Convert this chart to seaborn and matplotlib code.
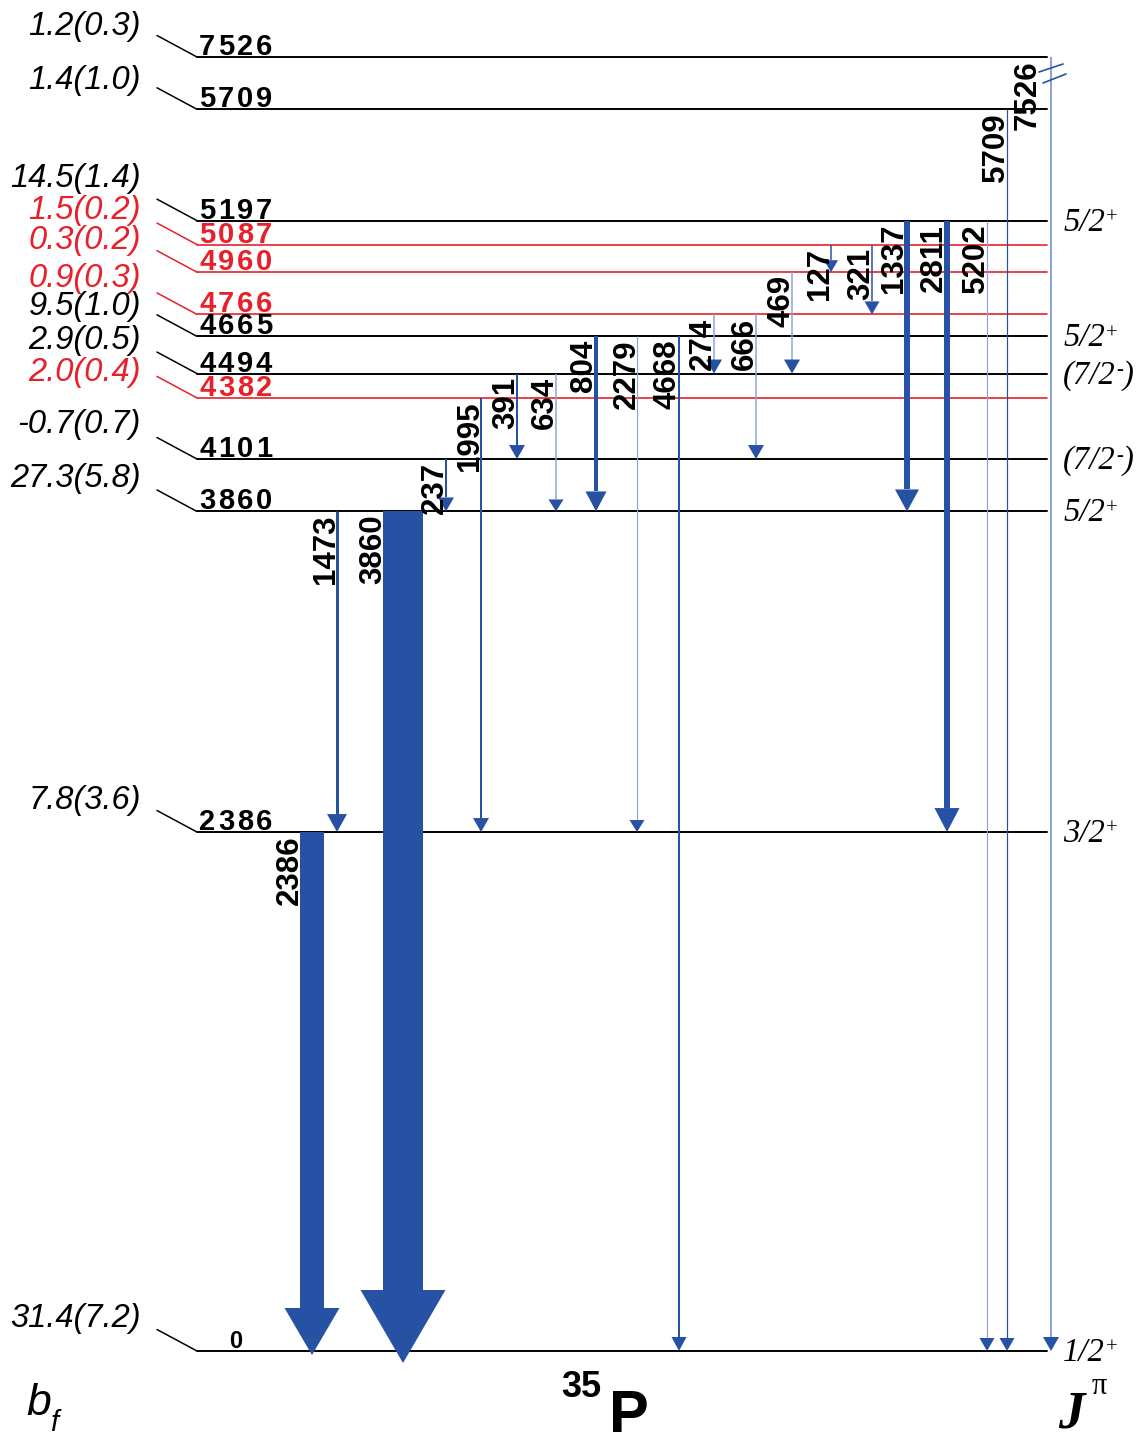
import matplotlib
matplotlib.use("Agg")
import matplotlib.pyplot as plt
import seaborn as sns

# Levels of 35P (keV), feeding b_f (%) and new levels (drawn red)
level_energy = [7526, 5709, 5197, 5087, 4960, 4766, 4665, 4494, 4382, 4101, 3860, 2386, 0]
level_bf = ["1.2(0.3)", "1.4(1.0)", "14.5(1.4)", "1.5(0.2)", "0.3(0.2)", "0.9(0.3)",
            "9.5(1.0)", "2.9(0.5)", "2.0(0.4)", "-0.7(0.7)", "27.3(5.8)", "7.8(3.6)", "31.4(7.2)"]
level_new = [0, 0, 0, 1, 1, 1, 0, 0, 1, 0, 0, 0, 0]

spin_energy = [5197, 4665, 4494, 4101, 3860, 2386, 0]
spin_label = ["5/2+", "5/2+", "(7/2-)", "(7/2-)", "5/2+", "3/2+", "1/2+"]

# gamma transitions: initial level, final level, gamma energy
gamma_from = [3860, 3860, 2386, 4101, 4382, 4494, 4494, 4665, 4665, 4665,
              4766, 4766, 4960, 5087, 5087, 5197, 5197, 5197, 5709, 7526]
gamma_to = [2386, 0, 0, 3860, 2386, 4101, 3860, 3860, 2386, 0,
            4494, 4101, 4494, 4960, 4766, 3860, 2386, 0, 0, 0]
gamma_label = ["1473", "3860", "2386", "237", "1995", "391", "634", "804", "2279", "4668",
               "274", "666", "469", "127", "321", "1337", "2811", "5202", "5709", "7526"]

# ---- layout (pixels) ----
arrow_x = [337, 403, 312, 446, 481, 517, 556, 596, 637, 679,
           714, 756, 792, 831, 872, 907, 947, 987, 1007, 1051]
shaft_w = [3, 40, 24, 2, 2, 2, 1.5, 4.5, 1.2, 2,
           1.5, 1.5, 1.5, 1.5, 1.5, 6, 6, 1.2, 1.2, 2]
head_w = [20, 85, 55, 16, 16, 16, 15, 21, 15, 15,
          16, 16, 16, 14, 15, 24, 25, 15, 15, 16]
head_h = [18, 73, 47, 14, 14, 14, 12, 20, 12, 14,
          14, 14, 14, 12, 13, 22, 24, 13, 13, 14]
tip_drop = [0, 12, 4] + [0] * 17
light = [0, 0, 0, 0, 0, 0, 1, 0, 1, 0, 1, 1, 1, 0, 0, 0, 0, 1, 0, 1]
label_gap = [2] * 19 + [14]
bf_label_px = [27, 80, 179, 210, 240, 278, 307, 340, 372, 425, 479, 800, 1319]

DARK = "#2751a3"
LIGHT = "#8ca4d8"
RED = "#e8202a"
SERIF = ["Liberation Serif", "DejaVu Serif"]

PX = 1 / 0.2175          # keV per pixel on the vertical axis
Y0 = 1351                # pixel row of the ground state


def e_px(p):
    return (Y0 - p) * PX


def draw_e(e):
    # 7526 sits above an axis break
    return e_px(57) if e == 7526 else e


sns.set_theme(style="white")
plt.rcParams["font.family"] = ["Liberation Sans", "DejaVu Sans"]
plt.rcParams["text.color"] = "black"

fig = plt.figure(figsize=(11.42, 14.37), dpi=100)
ax = fig.add_axes([0, 0, 1, 1])
ax.set_xlim(0, 1142)
ax.set_ylim(e_px(1437), e_px(0))
ax.axis("off")

# levels, connectors, level energies and b_f
for e, bf, new, ly in zip(level_energy, level_bf, level_new, bf_label_px):
    y = draw_e(e)
    c = RED if new else "black"
    ax.plot([197, 1047], [y, y], color=c, lw=1.4 if not new else 1.2, zorder=2)
    ax.plot([157, 197], [y + 21.5 * PX, y], color=c, lw=1.1, zorder=2)
    s = str(e)
    if e == 0:
        ax.text(229, y + 3 * PX, s, color=c, fontsize=17, fontweight="bold",
                ha="left", va="baseline", zorder=5)
    else:
        for i, ch in enumerate(s):
            ax.text(199 + i * 19, y + 2 * PX, ch, color=c, fontsize=21,
                    fontweight="bold", ha="left", va="baseline", zorder=5)
    ax.text(141, e_px(ly), bf, color=c, fontsize=23.5, style="italic",
            ha="right", va="center", zorder=5)

# gamma rays
for i, (e1, e2, lab) in enumerate(zip(gamma_from, gamma_to, gamma_label)):
    x = arrow_x[i]
    top = draw_e(e1)
    tip = e2 - tip_drop[i] * PX
    base = tip + head_h[i] * PX
    w = shaft_w[i]
    col = LIGHT if light[i] else DARK
    if w <= 3:
        ax.plot([x, x], [top, base], color=col, lw=w * 0.72,
                solid_capstyle="butt", zorder=3)
    else:
        ax.fill([x - w / 2, x + w / 2, x + w / 2, x - w / 2],
                [top, top, base, base], color=col, lw=0, zorder=3)
    hw = head_w[i]
    ax.fill([x - hw / 2, x + hw / 2, x], [base, base, tip],
            color=DARK, lw=0, zorder=3)
    ax.text(x - w / 2 - label_gap[i], top - 3 * PX, lab, rotation=90,
            rotation_mode="anchor", ha="right", va="baseline",
            fontsize=22.5, fontweight="bold", color="black", zorder=6)

# axis break marks on the 7526 line
ax.plot([1039, 1063], [e_px(72), e_px(64)], color=DARK, lw=1.2, zorder=4)
ax.plot([1043, 1066], [e_px(83), e_px(74)], color=DARK, lw=1.2, zorder=4)

# spin-parity labels: italic serif with a small raised sign
for e, s in zip(spin_energy, spin_label):
    paren = s.startswith("(")
    core = s.strip("()")
    main = ("(" if paren else "") + core[:-1]
    t = ax.text(1063, e - 10 * PX, main, fontsize=23.5, style="italic",
                family=SERIF, ha="left", va="baseline", color="black", zorder=5)
    ax.annotate(core[-1], xy=(1, 0.5), xycoords=t, xytext=(0.5, 0),
                textcoords="offset points", fontsize=15, family=SERIF,
                ha="left", va="baseline", color="black", zorder=5)
    if paren:
        ax.annotate(")", xy=(1, 0), xycoords=t, xytext=(5, 0),
                    textcoords="offset points", fontsize=23.5, style="italic",
                    family=SERIF, ha="left", va="bottom", color="black", zorder=5)

# bottom captions
ax.text(26, e_px(1415), "b", fontsize=32, style="italic", ha="left", va="baseline")
ax.text(50, e_px(1431), "f", fontsize=21, style="italic", ha="left", va="baseline")
ax.text(561, e_px(1397), "35", fontsize=26, fontweight="bold", ha="left", va="baseline")
ax.text(609, e_px(1432), "P", fontsize=43, fontweight="bold", ha="left", va="baseline")
ax.text(1058, e_px(1428), "J", fontsize=38, style="italic", fontweight="bold",
        family=SERIF, ha="left", va="baseline")
ax.text(1092, e_px(1394), "π", fontsize=22, family=SERIF, ha="left", va="baseline")

fig.savefig("out.png", dpi=100)
